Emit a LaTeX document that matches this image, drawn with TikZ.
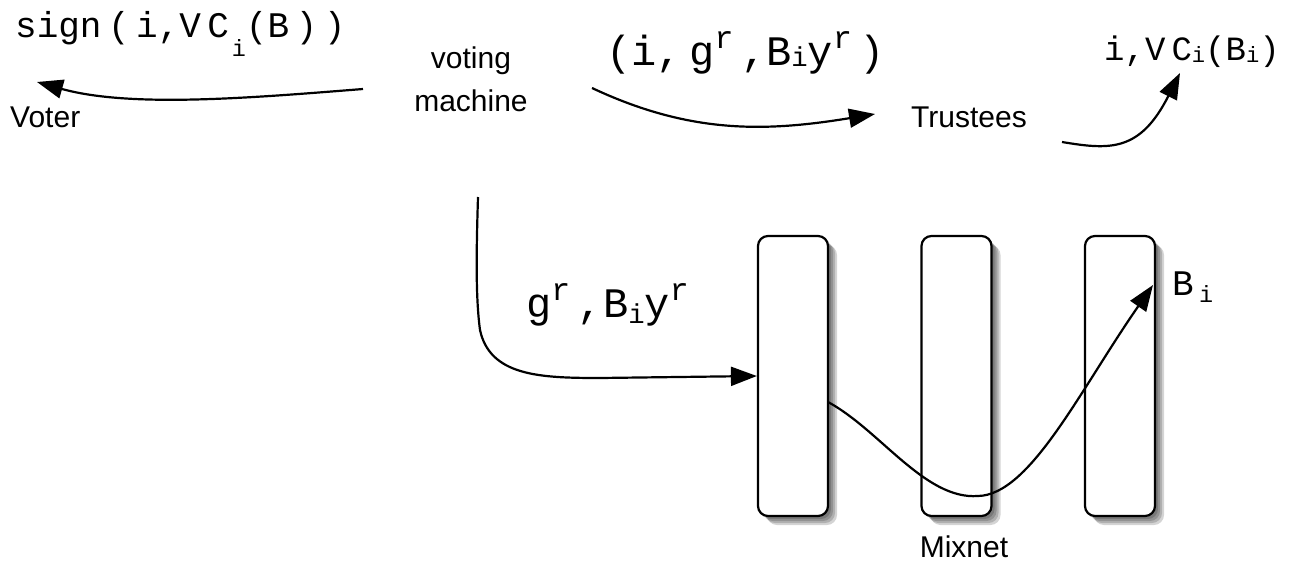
\documentclass[tikz,border=0pt]{standalone}
\usepackage{fontspec}
\setmainfont{Liberation Sans}
\newfontfamily\cour[WordSpace=0.3]{Liberation Mono}
\usetikzlibrary{arrows.meta}
\newcommand\dn[3]{\raisebox{-#1}{\scalebox{#2}{#3}}}
\newcommand\up[3]{\raisebox{#1}{\scalebox{#2}{#3}}}
\begin{document}
\begin{tikzpicture}[x=1pt,y=-1pt,
  lbl/.style={font=\fontsize{30}{43}\selectfont, inner sep=0pt},
  mono/.style={inner sep=0pt, anchor=base west},
  conn/.style={line width=2.2pt, -{Triangle[length=26pt,width=19pt]}},
  mixbox/.style={draw, line width=2.2pt, rounded corners=10pt, fill=white,
    minimum width=70pt, minimum height=280pt, inner sep=0pt},
  shadowlayer/.style={fill=black, opacity=0.17, rounded corners=10pt}]
\useasboundingbox (0,0) rectangle (1298,562);

% shadows
\foreach \cx in {793,956.5,1120}{
  \foreach \d in {3,5,7,9}{
    \fill[shadowlayer] (\cx-35+\d,236+\d) rectangle (\cx+35+\d,516+\d);
  }
}
\node[mixbox] (b1) at (793,376) {};
\node[mixbox] (b2) at (956.5,376) {};
\node[mixbox] (b3) at (1120,376) {};

% text labels
\node[lbl, anchor=base west] (voter) at (10,127) {Voter};
\node[lbl, align=center, anchor=base] (vm) at (471,111) {voting\\machine};
\node[lbl, anchor=base] (tru) at (969,127) {Trustees};
\node[lbl, anchor=base] (mix) at (964,557) {Mixnet};

\node[mono, font=\cour\fontsize{36}{36}\selectfont] (sig) at (15,37)
  {sign ( i,V C\hspace{0.08em}\dn{0.55em}{0.65}{i}(B ) )};
\node[mono, font=\cour\fontsize{42}{42}\selectfont] (tmsg) at (606,65)
  {(i, g\up{0.4em}{0.75}{r} ,B\dn{0.03em}{0.65}{i}y\up{0.4em}{0.75}{r} )};
\node[mono, font=\cour\fontsize{34}{34}\selectfont] (vc) at (1104,60)
  {i,V C\dn{0.07em}{0.65}{i}(B\dn{0.07em}{0.65}{i})};
\node[mono, font=\cour\fontsize{42}{42}\selectfont] (enc) at (526,317)
  {g\up{0.4em}{0.75}{r} ,B\dn{0.15em}{0.65}{i}y\up{0.4em}{0.75}{r}};
\node[mono, font=\cour\fontsize{36}{36}\selectfont] (bi) at (1172,295)
  {B\hspace{0.15em}\dn{0.2em}{0.65}{i}};

% connector end points
\coordinate (vmL) at (363,89);
\coordinate (voterTip) at (37,82);
\coordinate (vmR) at (592,88);
\coordinate (truTip) at (875,114);
\coordinate (truR) at (1062,142);
\coordinate (vcTip) at (1180,73);
\coordinate (vmB) at (478,197);
\coordinate (b1out) at (828,402);
\coordinate (b3tip) at (1153,285);

% connectors
\draw[conn] (vmL) .. controls (250,98) and (130,108) .. (voterTip);
\draw[conn] (vmR) .. controls (690,134) and (765,132) .. (truTip);
\draw[conn] (truR) .. controls (1110,150) and (1140,152) .. (vcTip);
\draw[conn] (vmB) .. controls (476,260) and (476,300) .. (480,330)
  .. controls (490,376) and (540,378) .. (600,378) -- (b1.west);
\draw[conn] (b1out) .. controls (880,430) and (925,500) .. (978,496)
  .. controls (1030,495) and (1080,390) .. (b3tip);
\end{tikzpicture}
\end{document}
